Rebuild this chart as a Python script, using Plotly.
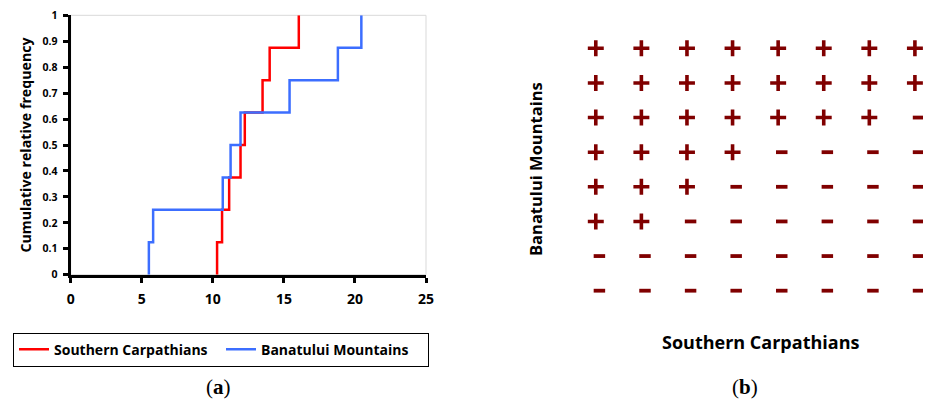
import plotly.graph_objects as go

# ---------------- data ----------------
southern = [10.3, 10.65, 11.15, 11.95, 12.25, 13.5, 14.0, 16.05]
banatului = [5.5, 5.8, 10.7, 11.25, 11.95, 15.4, 18.8, 20.45]
cum_freq = [0.0, 0.125, 0.25, 0.375, 0.5, 0.625, 0.75, 0.875, 1.0]
x_ticks = [0, 5, 10, 15, 20, 25]
y_ticks = [0, 0.1, 0.2, 0.3, 0.4, 0.5, 0.6, 0.7, 0.8, 0.9, 1]
y_tick_text = ["0", "0.1", "0.2", "0.3", "0.4", "0.5", "0.6", "0.7", "0.8", "0.9", "1"]

# sign matrix (rows: Banatului Mountains top->bottom, cols: Southern Carpathians)
sign_rows = [
    "++++++++",
    "++++++++",
    "+++++++-",
    "++++----",
    "+++-----",
    "++------",
    "--------",
    "--------",
]

OFF = 8  # page body margin
FW, FH = 931 - 2 * OFF, 407 - 2 * OFF
def px_x(p):
    return (p - OFF) / FW
def px_y(p):
    return 1 - (p - OFF) / FH

FONT = "Open Sans"
fig = go.Figure()

# ---------------- panel (a) ----------------
fig.add_trace(go.Scatter(
    x=[southern[0]] + southern, y=cum_freq, mode="lines", line_shape="hv",
    line=dict(color="#ff0000", width=2.5), name="Southern Carpathians",
    xaxis="x", yaxis="y"))
fig.add_trace(go.Scatter(
    x=[banatului[0]] + banatului, y=cum_freq, mode="lines", line_shape="hv",
    line=dict(color="#3c6eff", width=2.5), name="Banatului Mountains",
    xaxis="x", yaxis="y"))

# ---------------- panel (b) ----------------
plus_x, plus_y, minus_x, minus_y = [], [], [], []
for r, row in enumerate(sign_rows):
    for c, s in enumerate(row):
        if s == "+":
            plus_x.append(c + 1); plus_y.append(r + 1)
        else:
            minus_x.append(c + 1); minus_y.append(r + 1)

fig.add_trace(go.Scatter(
    x=plus_x, y=plus_y, mode="markers", xaxis="x3", yaxis="y3", showlegend=False,
    cliponaxis=False,
    marker=dict(symbol="cross-thin", size=11.4, line=dict(color="#800000", width=3.6))))
fig.add_trace(go.Scatter(
    x=minus_x, y=minus_y, mode="markers", xaxis="x4", yaxis="y3", showlegend=False,
    cliponaxis=False,
    marker=dict(symbol="line-ew", size=8.2, line=dict(color="#800000", width=3.8))))

xtick_font = dict(family=FONT, size=14, color="black", weight="bold")
ytick_font = dict(family=FONT, size=10.5, color="black", weight="bold")
xa_dom = [px_x(70.7), px_x(426)]
ya_dom = [px_y(274.7), px_y(15.3)]
col_step = 46.63
b_left = 573
b_right = 931
b_hi = 0.5 + (b_right - b_left) / col_step
minus_shift = 3.7 / col_step

fig.update_layout(
    width=FW, height=FH, margin=dict(l=0, r=0, t=0, b=0, pad=0), autosize=False,
    paper_bgcolor="white", plot_bgcolor="white",
    font=dict(family=FONT, color="black"),
    xaxis=dict(domain=xa_dom, anchor="y", range=[0, 25], tickvals=x_ticks,
               showgrid=False, zeroline=False, showline=True, linecolor="black",
               linewidth=3, ticks="outside", ticklen=5, tickwidth=2.5,
               tickcolor="black", tickfont=xtick_font, ticklabelstandoff=4,
               ticklabeloverflow="allow", automargin=False),
    xaxis2=dict(overlaying="x", anchor="y", range=[0, 25], tickvals=x_ticks,
                showgrid=False, zeroline=False, showline=False, ticks="inside",
                ticklen=5, tickwidth=2.5, tickcolor="black", showticklabels=False,
                automargin=False),
    yaxis=dict(domain=ya_dom, anchor="x", range=[0, 1], tickvals=y_ticks,
               ticktext=y_tick_text, showgrid=False, zeroline=False, showline=True,
               linecolor="black", linewidth=3, ticks="outside", ticklen=5,
               tickwidth=2.5, tickcolor="black", tickfont=ytick_font,
               ticklabelstandoff=3, ticklabeloverflow="allow", automargin=False,
               title=dict(text="Cumulative relative frequency", standoff=8,
                          font=dict(family=FONT, size=14.2, weight="bold"))),
    yaxis2=dict(overlaying="y", anchor="x", range=[0, 1], tickvals=y_ticks,
                showgrid=False, zeroline=False, showline=False, ticks="inside",
                ticklen=5, tickwidth=2.5, tickcolor="black", showticklabels=False,
                automargin=False),
    xaxis3=dict(domain=[px_x(b_left), 1.0], anchor="y3", range=[0.5, b_hi],
                visible=False, automargin=False),
    xaxis4=dict(overlaying="x3", anchor="y3",
                range=[0.5 - minus_shift, b_hi - minus_shift],
                visible=False, automargin=False),
    yaxis3=dict(domain=[px_y(308), px_y(31)], anchor="x3", range=[8.5, 0.5],
                visible=False, automargin=False),
    legend=dict(orientation="h", x=px_x(13), y=px_y(332.7), xanchor="left",
                yanchor="top", bordercolor="black", borderwidth=1,
                font=dict(family=FONT, size=14, weight="bold"),
                itemwidth=30, entrywidth=162),
    shapes=[dict(type="rect", xref="x domain", yref="y domain", x0=0, x1=1,
                 y0=0, y1=1, line=dict(color="#d9d9d9", width=1), layer="below")],
    annotations=[
        dict(text="Banatului Mountains", x=px_x(535), y=px_y(169), xref="paper",
             yref="paper", textangle=-90, showarrow=False, xanchor="center",
             yanchor="middle", font=dict(family=FONT, size=16.5, weight="bold")),
        dict(text="Southern Carpathians", x=px_x(760), y=px_y(342), xref="paper",
             yref="paper", showarrow=False, xanchor="center", yanchor="middle",
             font=dict(family=FONT, size=18, weight="bold")),
        dict(text="(<b>a</b>)", x=px_x(218), y=px_y(387), xref="paper",
             yref="paper", showarrow=False, xanchor="center", yanchor="middle",
             font=dict(family="Liberation Serif", size=21)),
        dict(text="(<b>b</b>)", x=px_x(745), y=px_y(387), xref="paper",
             yref="paper", showarrow=False, xanchor="center", yanchor="middle",
             font=dict(family="Liberation Serif", size=21)),
    ],
)

fig.write_html("out.html")
